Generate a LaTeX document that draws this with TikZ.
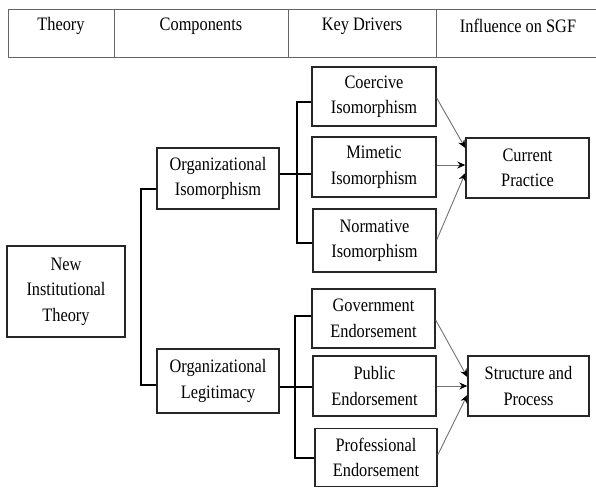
\documentclass[tikz,border=0pt]{standalone}
\usepackage{fontspec}
\setmainfont{Liberation Serif}[FakeStretch=0.86]
\usetikzlibrary{arrows.meta}
\tikzset{
  box/.style={draw=black!85, line width=1.4pt, align=center, inner sep=0pt,
    font=\fontsize{19}{25.5}\selectfont, text=black},
  conn/.style={draw=black, line width=2pt},
  arr/.style={draw=black!55, line width=0.9pt, -{Stealth[length=8pt,width=7pt,color=black]}},
  hline/.style={draw=black!60, line width=1pt},
  htext/.style={font=\fontsize{19}{22}\selectfont, text=black}
}
\begin{document}
\begin{tikzpicture}[x=1pt,y=-1pt]
\useasboundingbox[fill=white] (0,0) rectangle (596,488);
% header
\draw[hline] (598,9) -- (8,9) -- (8,57) -- (598,57);
\draw[hline] (114,9) -- (114,57);
\draw[hline] (288,9) -- (288,57);
\draw[hline] (436,9) -- (436,57);
\node[htext] (h1) at (61,26) {Theory};
\node[htext] (h2) at (201,26) {Components};
\node[htext] (h3) at (362,26) {Key Drivers};
\node[htext] (h4) at (518,26) {Influence on SGF};
% boxes
\node[box, minimum width=118pt, minimum height=91pt] (nit) at (66,291.5) {New\\Institutional\\Theory};
\node[box, minimum width=122pt, minimum height=61pt] (oi) at (218,178.5) {Organizational\\Isomorphism};
\node[box, minimum width=122pt, minimum height=64pt] (ol) at (218,381) {Organizational\\Legitimacy};
\node[box, minimum width=124pt, minimum height=59pt] (ci) at (374,96.5) {Coercive\\Isomorphism};
\node[box, minimum width=124pt, minimum height=60pt] (mi) at (374,167) {Mimetic\\Isomorphism};
\node[box, minimum width=123pt, minimum height=63pt] (ni) at (374.5,240.5) {Normative\\Isomorphism};
\node[box, minimum width=123pt, minimum height=60pt] (cp) at (527.5,168) {Current\\Practice};
\node[box, minimum width=123pt, minimum height=59pt] (ge) at (373.5,318.5) {Government\\Endorsement};
\node[box, minimum width=123pt, minimum height=60pt] (pe) at (374.5,386) {Public\\Endorsement};
\node[box, minimum width=122pt, minimum height=58pt] (pr) at (376,457.5) {Professional\\Endorsement};
\node[box, minimum width=121pt, minimum height=60pt] (sp) at (528.5,386) {Structure and\\Process};
% connectors
\draw[conn] ([yshift=-10.5pt]oi.west) -- ++(-15,0) |- ([yshift=-4pt]ol.west);
\draw[conn] ([yshift=4.5pt]oi.east) -- ([yshift=-7pt]mi.west);
\draw[conn] ([yshift=-5.5pt]ci.west) -- ++(-14,0) |- ([yshift=-2.5pt]ni.west);
\draw[conn] ([yshift=-6pt]ol.east) -- ([yshift=-1pt]pe.west);
\draw[conn] ([yshift=2.5pt]ge.west) -- ++(-16,0) |- ([yshift=-0.5pt]pr.west);
% arrows
\draw[arr] ([yshift=-1.5pt]ci.east) -- ([yshift=20pt]cp.west);
\draw[arr] ([yshift=2pt]mi.east) -- ([yshift=3pt]cp.west);
\draw[arr] ([yshift=0.5pt]ni.east) -- ([yshift=-5pt]cp.west);
\draw[arr] ([yshift=-1.5pt]ge.east) -- ([yshift=9pt]sp.west);
\draw[arr] (pe.east) -- (sp.west);
\draw[arr] ([yshift=2.5pt]pr.east) -- ([yshift=-9pt]sp.west);
\end{tikzpicture}
\end{document}
